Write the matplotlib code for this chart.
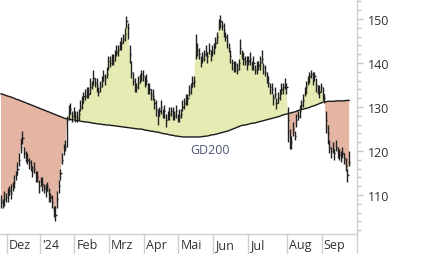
import numpy as np
import matplotlib
matplotlib.use("Agg")
import matplotlib.pyplot as plt
import matplotlib.transforms as mtransforms

plt.rcParams['font.family'] = ['Open Sans', 'DejaVu Sans']

# Schlusskurse je Handelstag (Ende Nov 2023 bis Ende Sep 2024)
closes = [
    108.5, 108.0, 109.0, 109.5, 110.0, 111.0, 110.5, 112.0, 113.0, 114.5,
    116.0, 118.0, 121.0, 123.0, 119.5, 119.0, 118.0, 117.5, 116.5, 115.5,
    116.0, 114.5, 114.0, 112.0, 113.0, 112.5, 111.5, 111.0, 112.0, 110.0,
    109.5, 108.5, 106.0, 105.5, 109.0, 112.0, 115.0, 118.0, 120.5, 121.0,
    127.0, 128.5, 129.5, 128.0, 128.5, 128.0, 127.5, 128.5, 130.0, 131.0,
    132.5, 132.5, 133.5, 133.0, 134.5, 135.0, 136.5, 135.5, 135.0, 133.5,
    134.5, 136.0, 137.0, 136.5, 137.5, 140.5, 140.0, 141.0, 140.5, 142.0,
    142.5, 143.0, 144.0, 144.5, 145.5, 146.5, 149.5, 148.0, 142.0, 138.0,
    136.0, 135.0, 134.5, 135.5, 136.5, 137.5, 137.0, 136.0, 136.0, 134.5,
    134.0, 133.0, 132.5, 131.0, 129.5, 128.0, 129.0, 130.0, 128.5, 129.0,
    127.0, 128.0, 128.5, 129.0, 128.5, 128.0, 129.0, 127.5, 128.0, 128.5,
    130.0, 131.0, 131.5, 132.0, 133.5, 134.5, 135.5, 136.0, 143.5, 143.0,
    142.0, 140.5, 141.0, 142.0, 142.5, 141.5, 143.0, 142.0, 142.5, 143.5,
    144.5, 146.0, 148.5, 149.5, 148.5, 147.5, 146.0, 145.0, 143.5, 141.5,
    140.0, 139.0, 139.5, 138.5, 140.0, 143.5, 142.0, 141.0, 140.5, 140.0,
    140.5, 141.0, 139.5, 140.0, 138.5, 139.0, 139.5, 140.0, 141.0, 139.0,
    138.0, 137.0, 135.5, 134.5, 134.0, 132.0, 133.0, 131.0, 132.0, 133.0,
    134.0, 134.5, 135.0, 134.5, 127.0, 123.0, 122.0, 125.0, 123.5, 127.0,
    128.0, 129.0, 130.5, 131.5, 133.5, 134.5, 136.0, 137.0, 137.5, 136.5,
    137.0, 135.0, 134.0, 133.5, 134.5, 133.0, 132.0, 127.0, 124.0, 121.0,
    120.0, 120.5, 119.5, 121.0, 120.0, 119.0, 119.0, 119.5, 118.5, 116.5,
    114.5, 117.5,
]

# Abstand Hoch ueber Schluss / Tief unter Schluss
up_wick = [
    1.5, 1.0, 2.0, 1.0, 1.5, 1.0, 2.0, 1.0, 1.5, 1.0,
    1.5, 1.5, 2.0, 1.5, 1.5, 1.0, 1.5, 1.0, 1.5, 1.0,
    1.5, 1.0, 1.5, 1.5, 1.0, 1.5, 1.0, 1.5, 1.0, 1.5,
    1.0, 1.5, 1.5, 2.0, 2.0, 1.5, 1.0, 1.5, 1.0, 1.5,
    1.0, 2.0, 1.5, 1.0, 1.5, 1.0, 1.5, 1.0, 1.5, 1.5,
    1.0, 1.5, 1.0, 1.5, 2.0, 1.0, 2.0, 1.0, 1.5, 1.0,
    1.5, 1.0, 1.5, 1.0, 1.5, 1.0, 1.5, 1.0, 1.5, 1.0,
    1.5, 1.0, 1.0, 1.5, 1.0, 1.5, 1.1, 1.0, 2.0, 2.5,
    2.0, 1.5, 1.0, 1.5, 1.0, 1.0, 1.5, 1.0, 1.5, 1.0,
    1.5, 1.0, 1.5, 1.0, 2.0, 1.5, 1.0, 1.5, 1.0, 1.5,
    1.5, 1.0, 1.5, 1.0, 1.5, 1.0, 1.5, 1.0, 1.5, 1.0,
    1.5, 1.0, 1.5, 1.0, 1.5, 1.0, 1.5, 1.0, 3.0, 1.5,
    1.5, 1.0, 1.5, 1.0, 1.5, 1.0, 1.5, 1.0, 1.5, 1.0,
    1.5, 1.0, 1.5, 1.5, 1.0, 1.5, 1.0, 1.5, 1.0, 1.5,
    1.0, 1.5, 1.0, 1.5, 1.0, 2.0, 1.0, 1.5, 1.0, 1.5,
    1.0, 1.5, 1.0, 1.5, 1.0, 1.5, 1.0, 1.5, 2.0, 1.0,
    1.5, 1.0, 1.5, 1.0, 1.5, 1.0, 1.5, 1.0, 1.5, 1.0,
    1.5, 1.0, 1.5, 1.0, 3.0, 2.0, 1.5, 1.5, 1.0, 1.5,
    1.0, 1.5, 1.0, 1.5, 1.0, 1.5, 1.0, 1.0, 1.0, 1.5,
    1.0, 1.5, 1.0, 1.5, 1.0, 1.5, 1.0, 2.0, 2.0, 1.5,
    1.0, 1.5, 1.0, 1.5, 1.0, 1.5, 1.0, 1.5, 1.0, 2.0,
    1.5, 2.5,
]
down_wick = [
    1.5, 1.0, 1.5, 1.0, 1.5, 1.0, 1.5, 1.0, 1.5, 1.0,
    1.5, 1.5, 1.5, 1.5, 1.0, 1.5, 1.0, 1.5, 1.0, 1.5,
    1.0, 1.5, 1.0, 1.5, 1.0, 1.5, 1.0, 1.5, 1.0, 1.5,
    1.0, 1.5, 1.0, 1.5, 2.0, 1.5, 1.5, 1.0, 1.5, 1.0,
    6.0, 1.5, 1.0, 1.5, 1.0, 1.5, 1.0, 1.5, 1.0, 1.5,
    1.5, 1.0, 1.5, 1.0, 1.5, 1.0, 1.5, 1.0, 1.5, 1.0,
    1.0, 1.5, 1.0, 1.5, 1.0, 2.0, 1.0, 1.5, 1.0, 1.5,
    1.0, 1.5, 1.0, 1.5, 1.0, 1.5, 1.5, 2.5, 2.0, 1.5,
    1.0, 1.5, 1.0, 1.5, 1.0, 1.5, 1.0, 1.5, 1.0, 1.5,
    1.0, 1.5, 1.0, 1.5, 1.5, 2.0, 1.0, 1.5, 1.0, 1.5,
    1.5, 1.0, 1.5, 1.0, 1.5, 1.0, 1.5, 1.0, 1.5, 1.0,
    1.0, 1.5, 1.0, 1.5, 1.0, 1.5, 1.0, 1.5, 2.5, 1.5,
    1.0, 1.5, 1.0, 1.5, 1.0, 1.5, 1.0, 1.5, 1.0, 1.5,
    1.0, 1.5, 1.0, 1.5, 1.0, 1.5, 1.0, 1.5, 1.0, 1.5,
    1.5, 1.0, 1.5, 1.0, 1.5, 1.5, 1.0, 1.5, 1.0, 1.5,
    1.0, 1.5, 1.0, 1.5, 1.0, 1.5, 1.0, 1.5, 1.0, 1.5,
    1.0, 1.5, 1.0, 1.5, 1.0, 1.5, 1.0, 1.5, 1.0, 1.5,
    1.0, 1.5, 1.0, 1.5, 5.0, 2.5, 1.5, 1.5, 1.0, 1.5,
    1.0, 1.5, 1.0, 1.5, 1.0, 1.5, 1.0, 1.5, 1.0, 1.5,
    1.0, 1.5, 1.0, 1.5, 1.0, 1.5, 1.0, 3.0, 2.5, 1.5,
    1.5, 1.0, 1.5, 1.0, 1.5, 1.0, 1.5, 1.0, 1.5, 1.0,
    1.5, 1.0,
]

# 200-Tage-Linie (GD200)
gd200 = [
    133.0, 132.9, 132.8, 132.6, 132.5, 132.4, 132.3, 132.1, 132.0, 131.8,
    131.7, 131.6, 131.4, 131.3, 131.1, 131.0, 130.8, 130.7, 130.5, 130.4,
    130.2, 130.1, 129.9, 129.8, 129.6, 129.5, 129.3, 129.2, 129.0, 128.9,
    128.7, 128.6, 128.4, 128.3, 128.1, 128.0, 127.8, 127.7, 127.5, 127.4,
    127.3, 127.3, 127.2, 127.1, 127.1, 127.0, 126.9, 126.9, 126.8, 126.7,
    126.7, 126.6, 126.6, 126.5, 126.5, 126.4, 126.3, 126.3, 126.2, 126.2,
    126.1, 126.1, 126.0, 126.0, 125.9, 125.9, 125.9, 125.8, 125.8, 125.7,
    125.7, 125.6, 125.6, 125.5, 125.5, 125.4, 125.4, 125.3, 125.3, 125.2,
    125.2, 125.1, 125.1, 125.0, 125.0, 125.0, 124.9, 124.8, 124.7, 124.7,
    124.6, 124.5, 124.5, 124.4, 124.3, 124.3, 124.2, 124.1, 124.0, 123.9,
    123.9, 123.8, 123.7, 123.6, 123.6, 123.5, 123.4, 123.4, 123.3, 123.3,
    123.2, 123.2, 123.2, 123.2, 123.2, 123.2, 123.2, 123.2, 123.2, 123.2,
    123.2, 123.2, 123.3, 123.3, 123.4, 123.4, 123.5, 123.6, 123.7, 123.7,
    123.8, 123.9, 124.0, 124.1, 124.2, 124.3, 124.4, 124.5, 124.6, 124.8,
    124.9, 125.1, 125.2, 125.4, 125.5, 125.7, 125.8, 125.9, 125.9, 126.0,
    126.1, 126.2, 126.3, 126.3, 126.4, 126.5, 126.6, 126.7, 126.8, 126.9,
    127.0, 127.1, 127.2, 127.3, 127.4, 127.5, 127.6, 127.7, 127.8, 127.9,
    128.1, 128.2, 128.3, 128.4, 128.5, 128.6, 128.7, 128.8, 128.9, 129.0,
    129.2, 129.3, 129.4, 129.5, 129.6, 129.7, 129.8, 129.9, 130.1, 130.2,
    130.3, 130.5, 130.6, 130.8, 130.9, 131.1, 131.2, 131.2, 131.3, 131.3,
    131.3, 131.3, 131.3, 131.4, 131.4, 131.4, 131.4, 131.4, 131.4, 131.5,
    131.5, 131.5,
]

# Monatsgrenzen (Handelstag-Index) und Beschriftung
month_starts = [3.5, 23.5, 44.5, 65.5, 86.5, 107.5, 128.5, 149.5, 173.5, 194.5]
month_labels = ['Dez', "'24", 'Feb', 'Mrz', 'Apr', 'Mai', 'Jun', 'Jul', 'Aug', 'Sep']
y_ticks = [110, 120, 130, 140, 150]

c = np.array(closes)
g = np.array(gd200)
hi = c + np.array(up_wick)
lo = c - np.array(down_wick)
x = np.arange(len(c))

fig = plt.figure(figsize=(4.26, 2.55), dpi=100)
ax = fig.add_axes([0, 20 / 255, 357 / 426, 235 / 255])

# Flaechen zwischen Kurs und GD200
ax.fill_between(x, c, g, where=c >= g, interpolate=True, color='#e6ebb3', lw=0)
ax.fill_between(x, c, g, where=c < g, interpolate=True, color='#e5b5a3', lw=0)
ax.plot(x, g, color='#1a1a1a', lw=1.0)

# OHLC-Balken
ax.vlines(x, lo, hi, color='#222222', lw=1.0)
ax.hlines(c, x, x + 0.7, color='#222222', lw=1.0)

ax.text(126.7, 120.4, 'GD200', color='#4a5675', fontsize=9, ha='center', va='center')

ax.set_xlim(-0.6, 215.8)
ax.set_ylim(101.15, 154.55)

for s in ['top', 'left']:
    ax.spines[s].set_visible(False)
for s in ['bottom', 'right']:
    ax.spines[s].set_color('#cfcfcf')
    ax.spines[s].set_linewidth(1.0)

# x-Achse: lange Trennstriche, Text rechts daneben
ax.set_xticks(month_starts + [215.8])
ax.set_xticklabels([])
ax.tick_params(axis='x', length=14.5, width=1.0, color='#cfcfcf', direction='out')
off = mtransforms.ScaledTranslation(2 / 100, -4 / 100, fig.dpi_scale_trans)
trans = mtransforms.blended_transform_factory(ax.transData, ax.transAxes) + off
for pos, lab in zip(month_starts, month_labels):
    ax.text(pos, 0, lab, transform=trans, ha='left', va='top', fontsize=9, color='#333333')

# y-Achse rechts
ax.yaxis.tick_right()
ax.set_yticks(y_ticks)
ax.set_yticks(np.arange(102, 155, 2), minor=True)
ax.tick_params(axis='y', which='major', length=4.5, width=1.0, color='#c4c4c4',
               labelsize=9, labelcolor='#333333', pad=3)
ax.tick_params(axis='y', which='minor', length=3, width=1.0, color='#c4c4c4')

fig.savefig('out.png', dpi=100)
